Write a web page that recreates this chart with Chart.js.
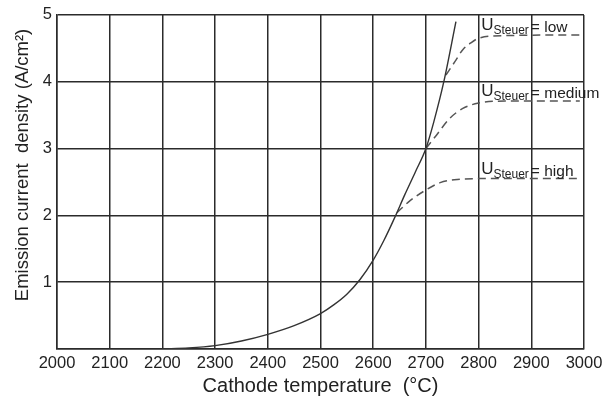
<!DOCTYPE html>
<html>
<head>
<meta charset="utf-8">
<script src="https://cdn.jsdelivr.net/npm/chart.js@4"></script>
<style>
html, body { margin: 0; padding: 0; background: #fff; }
#wrap { width: 602px; height: 401px; }
</style>
</head>
<body>
<div id="wrap"><canvas id="chart" width="602" height="401"></canvas></div>
<script>
// emission curve (solid)
var temps   = [2200, 2250,  2300, 2350, 2400, 2450, 2500, 2525, 2550, 2575, 2600, 2620, 2641, 2660, 2680, 2700, 2715, 2734, 2757];
var density = [0,    0.015, 0.05, 0.12, 0.22, 0.35, 0.53, 0.66, 0.82, 1.04, 1.33, 1.62, 1.97, 2.31, 2.65, 3.0,  3.4,  4.0,  4.9];

// U_Steuer curves (dashed)
var lowTemps    = [2738, 2755, 2770, 2785, 2800, 2850, 2992];
var lowVals     = [4.1,  4.3,  4.48, 4.58, 4.65, 4.69, 4.70];
var mediumTemps = [2700, 2720, 2745, 2770, 2800, 2850, 2992];
var mediumVals  = [3.0,  3.2,  3.45, 3.6,  3.68, 3.71, 3.71];
var highTemps   = [2645, 2670, 2698, 2727, 2765, 2800, 2992];
var highVals    = [2.04, 2.22, 2.37, 2.49, 2.54, 2.55, 2.55];

var curveNames = ['low', 'medium', 'high'];
var labelTemp = 2805;

var xTicks = [2000, 2100, 2200, 2300, 2400, 2500, 2600, 2700, 2800, 2900, 3000];
var yTicks = [0, 1, 2, 3, 4, 5];

function pts(xs, ys) {
    return xs.map(function(x, i){ return {x: x, y: ys[i]}; });
}

var FONT = "'Liberation Sans', Arial, Helvetica, sans-serif";
var GRID = '#2b2b2b';

var dashed = {
    borderColor: '#555',
    borderWidth: 1.5,
    borderDash: [8, 5],
    pointRadius: 0,
    fill: false,
    cubicInterpolationMode: 'monotone'
};

var labelPlugin = {
    id: 'curveLabels',
    afterDraw: function(chart) {
        var ctx = chart.ctx;
        var xs = chart.scales.x, ys = chart.scales.y;
        var ends = [lowVals[lowVals.length - 1], mediumVals[mediumVals.length - 1], highVals[highVals.length - 1]];
        ctx.save();
        ctx.fillStyle = '#222';
        ctx.textBaseline = 'alphabetic';
        ctx.textAlign = 'left';
        for (var i = 0; i < curveNames.length; i++) {
            var x = xs.getPixelForValue(labelTemp);
            var y = ys.getPixelForValue(ends[i]) - 5;
            ctx.font = '17px ' + FONT;
            ctx.fillText('U', x, y);
            x += ctx.measureText('U').width;
            ctx.font = '12px ' + FONT;
            ctx.fillText('Steuer', x, y + 4);
            x += ctx.measureText('Steuer').width + 2;
            ctx.font = '15.5px ' + FONT;
            ctx.fillText('= ' + curveNames[i], x, y + 2);
        }
        // y axis title
        var a = chart.chartArea;
        ctx.translate(23, (a.top + a.bottom) / 2 - 17);
        ctx.rotate(-Math.PI / 2);
        ctx.textAlign = 'center';
        ctx.textBaseline = 'middle';
        ctx.font = '18.5px ' + FONT;
        ctx.fillText('Emission current  density (A/cm\u00B2)', 0, 0);
        ctx.restore();
    }
};

var ctx = document.getElementById('chart').getContext('2d');
var chart = new Chart(ctx, {
    type: 'line',
    data: {
        datasets: [
            {
                data: pts(temps, density),
                borderColor: '#333',
                borderWidth: 1.4,
                pointRadius: 0,
                fill: false,
                cubicInterpolationMode: 'monotone'
            },
            Object.assign({ data: pts(lowTemps, lowVals) }, dashed),
            Object.assign({ data: pts(mediumTemps, mediumVals) }, dashed),
            Object.assign({ data: pts(highTemps, highVals) }, dashed)
        ]
    },
    options: {
        responsive: false,
        animation: false,
        devicePixelRatio: 1,
        layout: { padding: { top: 13, right: 18, left: 0, bottom: 0 } },
        plugins: { legend: { display: false }, tooltip: { enabled: false } },
        scales: {
            x: {
                type: 'linear',
                min: 2000, max: 3000,
                afterBuildTicks: function(s){ s.ticks = xTicks.map(function(v){ return {value: v}; }); },
                afterFit: function(s){ s.height = 52; s.paddingRight = 0; s.paddingLeft = 0; },
                grid: { color: GRID, lineWidth: 1.5, drawTicks: false },
                border: { color: GRID, width: 1.5 },
                ticks: {
                    color: '#222', padding: 5, maxRotation: 0, autoSkip: false,
                    font: { family: FONT, size: 16.5 },
                    callback: function(v){ return String(v); }
                },
                title: {
                    display: true,
                    text: 'Cathode temperature  (\u00B0C)',
                    color: '#222',
                    font: { family: FONT, size: 20 },
                    padding: { top: 0, bottom: 3 }
                }
            },
            y: {
                min: 0, max: 5,
                afterBuildTicks: function(s){ s.ticks = yTicks.map(function(v){ return {value: v}; }); },
                afterFit: function(s){ s.width = 57; },
                grid: { color: GRID, lineWidth: 1.5, drawTicks: false },
                border: { color: GRID, width: 1.5 },
                ticks: {
                    color: '#222', padding: 5,
                    font: { family: FONT, size: 16.5 },
                    callback: function(v){ return v === 0 ? '' : String(v); }
                }
            }
        }
    },
    plugins: [labelPlugin]
});
</script>
</body>
</html>
